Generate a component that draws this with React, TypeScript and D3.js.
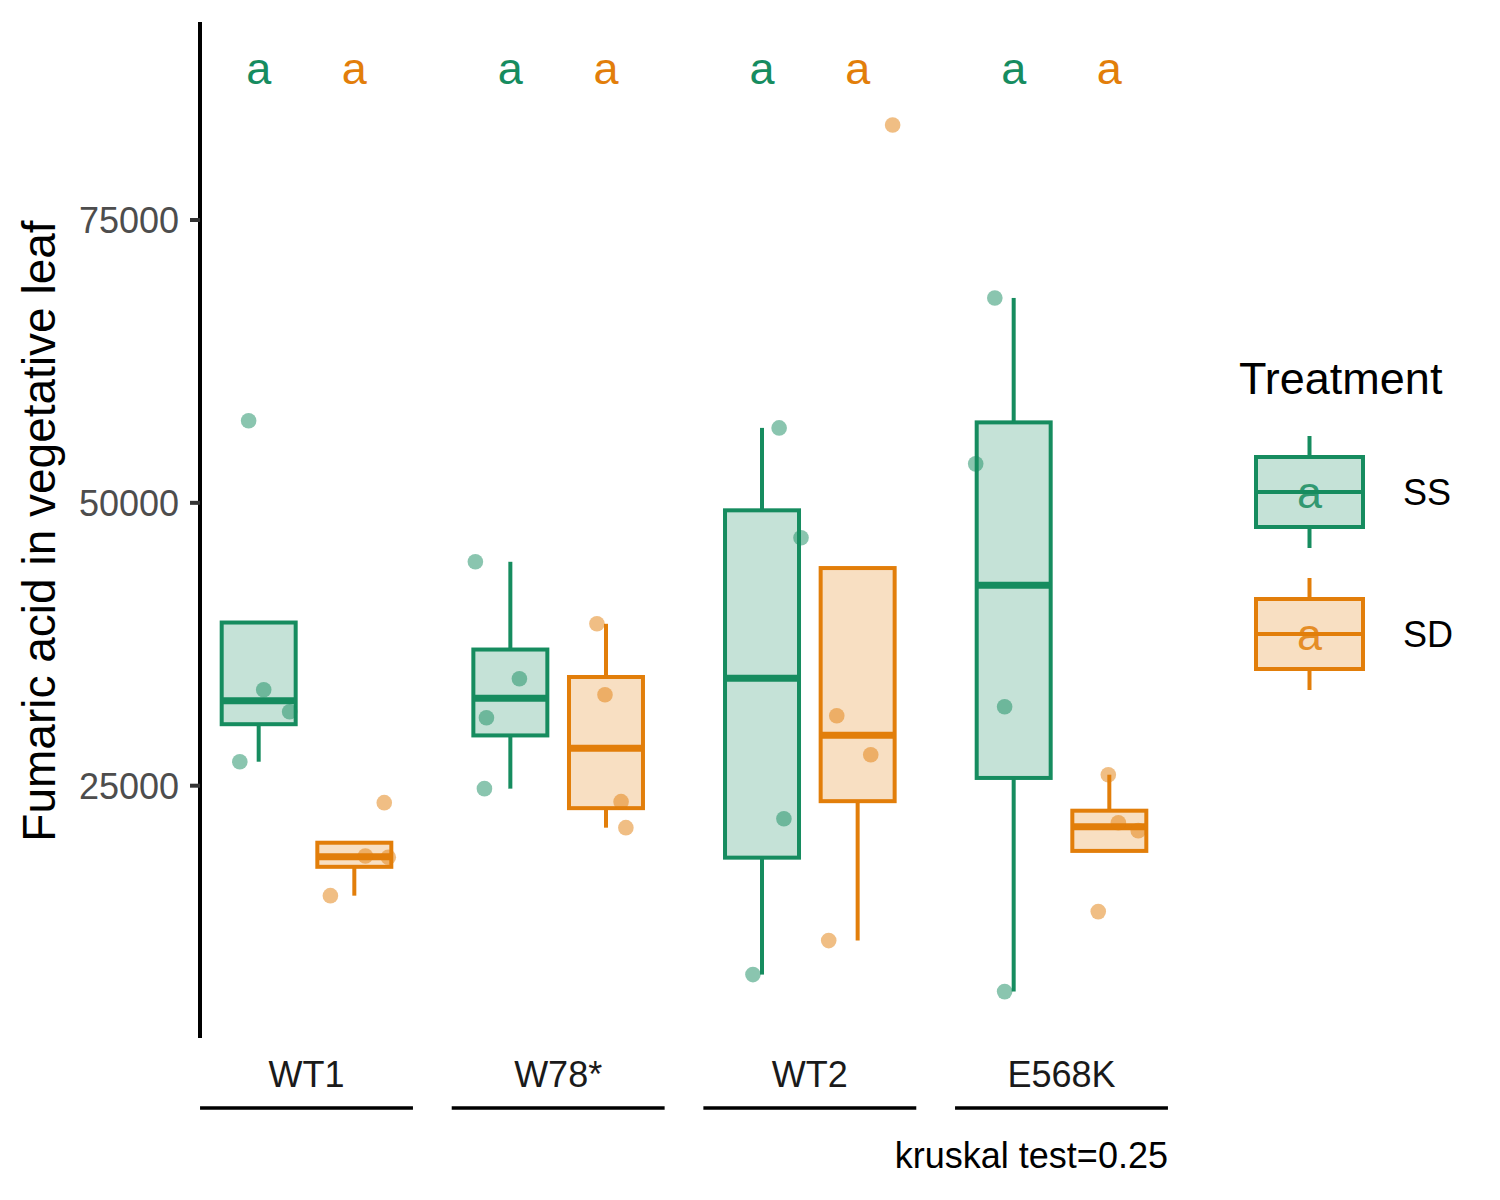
import React from "react";
import * as d3 from "d3";

const categories = ["WT1", "W78*", "WT2", "E568K"];
const treatments = ["SS", "SD"];
const treatmentColors = ["#168C5F", "#E27E0A"];

// values per category, per treatment
const ssValues = [
  [57250, 33480, 31540, 27120],
  [44790, 34450, 31010, 24740],
  [56625, 46910, 22085, 8305],
  [68110, 53445, 31980, 6800],
];
const sdValues = [
  [23500, 18780, 18680, 15280],
  [39310, 33040, 23590, 21290],
  [83390, 31185, 27740, 11310],
  [25970, 21730, 21025, 13870],
];
// horizontal jitter (fraction of category step)
const ssJitter = [
  [-0.04, 0.02, 0.123, -0.075],
  [-0.139, 0.036, -0.095, -0.103],
  [0.068, 0.155, 0.087, -0.036],
  [-0.075, -0.151, -0.036, -0.036],
];
const sdJitter = [
  [0.119, 0.044, 0.135, -0.095],
  [-0.036, -0.004, 0.06, 0.079],
  [0.139, -0.083, 0.052, -0.115],
  [-0.004, 0.036, 0.115, -0.044],
];
const letters = [
  ["a", "a"],
  ["a", "a"],
  ["a", "a"],
  ["a", "a"],
];
const yTicks = [25000, 50000, 75000];
const yDomain = [2700, 92500];
const letterY = 88200;
const yTitle = "Fumaric acid in vegetative leaf";
const note = "kruskal test=0.25";
const legendTitle = "Treatment";

const FONT = "Arial, 'Liberation Sans', Helvetica, sans-serif";

function boxStats(vals: number[]) {
  const s = [...vals].sort((a, b) => a - b);
  const q1 = d3.quantile(s, 0.25)!;
  const med = d3.quantile(s, 0.5)!;
  const q3 = d3.quantile(s, 0.75)!;
  const iqr = q3 - q1;
  const hiFence = q3 + 1.5 * iqr;
  const loFence = q1 - 1.5 * iqr;
  const upper = d3.max(s.filter((v) => v <= hiFence))!;
  const lower = d3.min(s.filter((v) => v >= loFence))!;
  return { q1, med, q3, upper: Math.max(upper, q3), lower: Math.min(lower, q1) };
}

export default function App() {
  const W = 1500;
  const H = 1200;
  const y = d3.scaleLinear().domain(yDomain).range([1038, 22]);
  const x = d3.scalePoint<string>().domain(categories).range([306.5, 1061.5]);
  const step = x.step();
  const dodge = 0.19 * step;
  const boxW = 0.294 * step;
  const lineHalf = 0.423 * step;
  const outlineW = 4;
  const medianW = 7;

  const series = [ssValues, sdValues];
  const jitters = [ssJitter, sdJitter];

  return (
    <svg
      width={W}
      height={H}
      style={{ position: "absolute", left: 0, top: 0, background: "#fff" }}
      fontFamily={FONT}
    >
      <rect x={0} y={0} width={W} height={H} fill="#fff" />
      {/* boxes */}
      {categories.map((c, ci) =>
        treatments.map((t, ti) => {
          const st = boxStats(series[ti][ci]);
          const cx = x(c)! + (ti === 0 ? -dodge : dodge);
          const col = treatmentColors[ti];
          return (
            <g key={`b-${c}-${t}`}>
              <line x1={cx} x2={cx} y1={y(st.q3)} y2={y(st.upper)} stroke={col} strokeWidth={outlineW} />
              <line x1={cx} x2={cx} y1={y(st.q1)} y2={y(st.lower)} stroke={col} strokeWidth={outlineW} />
              <rect
                x={cx - boxW / 2}
                y={y(st.q3)}
                width={boxW}
                height={y(st.q1) - y(st.q3)}
                fill={col}
                fillOpacity={0.25}
                stroke={col}
                strokeWidth={outlineW}
              />
              <line
                x1={cx - boxW / 2}
                x2={cx + boxW / 2}
                y1={y(st.med)}
                y2={y(st.med)}
                stroke={col}
                strokeWidth={medianW}
              />
            </g>
          );
        })
      )}
      {/* points */}
      {categories.map((c, ci) =>
        treatments.map((t, ti) => {
          const cx = x(c)! + (ti === 0 ? -dodge : dodge);
          return series[ti][ci].map((v, k) => (
            <circle
              key={`p-${c}-${t}-${k}`}
              cx={cx + jitters[ti][ci][k] * step}
              cy={y(v)}
              r={7.8}
              fill={treatmentColors[ti]}
              fillOpacity={0.5}
            />
          ));
        })
      )}
      {/* letters */}
      {categories.map((c, ci) =>
        treatments.map((t, ti) => (
          <text
            key={`l-${c}-${t}`}
            x={x(c)! + (ti === 0 ? -dodge : dodge)}
            y={y(letterY) + 13}
            textAnchor="middle"
            fontSize={45}
            fill={treatmentColors[ti]}
          >
            {letters[ci][ti]}
          </text>
        ))
      )}
      {/* y axis */}
      <line x1={200} x2={200} y1={y(yDomain[0])} y2={y(yDomain[1])} stroke="#000" strokeWidth={4} />
      {yTicks.map((t) => (
        <g key={`t-${t}`}>
          <line x1={190} x2={200} y1={y(t)} y2={y(t)} stroke="#333" strokeWidth={4} />
          <text x={179} y={y(t) + 13} textAnchor="end" fontSize={36} fill="#4D4D4D">
            {t}
          </text>
        </g>
      ))}
      <text
        transform={`translate(55, 531) rotate(-90)`}
        textAnchor="middle"
        fontSize={46}
        fill="#000"
      >
        {yTitle}
      </text>
      {/* x labels and underlines */}
      {categories.map((c) => (
        <g key={`x-${c}`}>
          <text x={x(c)!} y={1087} textAnchor="middle" fontSize={36} fill="#1a1a1a">
            {c}
          </text>
          <line x1={x(c)! - lineHalf} x2={x(c)! + lineHalf} y1={1108} y2={1108} stroke="#000" strokeWidth={3.5} />
        </g>
      ))}
      <text x={x(categories[categories.length - 1])! + lineHalf} y={1168} textAnchor="end" fontSize={36} fill="#000">
        {note}
      </text>
      {/* legend */}
      <text x={1239} y={394} fontSize={45} fill="#000">
        {legendTitle}
      </text>
      {treatments.map((t, ti) => {
        const cy = 492 + ti * 142;
        const col = treatmentColors[ti];
        const kx = 1309.5;
        const kw = 107;
        const kh = 70;
        return (
          <g key={`lg-${t}`}>
            <line x1={kx} x2={kx} y1={cy - kh / 2} y2={cy - kh / 2 - 21} stroke={col} strokeWidth={outlineW} />
            <line x1={kx} x2={kx} y1={cy + kh / 2} y2={cy + kh / 2 + 21} stroke={col} strokeWidth={outlineW} />
            <rect
              x={kx - kw / 2}
              y={cy - kh / 2}
              width={kw}
              height={kh}
              fill={col}
              fillOpacity={0.25}
              stroke={col}
              strokeWidth={outlineW}
            />
            <line x1={kx - kw / 2} x2={kx + kw / 2} y1={cy} y2={cy} stroke={col} strokeWidth={outlineW} />
            <text x={kx} y={cy + 16} textAnchor="middle" fontSize={45} fill={col} fillOpacity={0.85}>
              a
            </text>
            <text x={1403} y={cy + 13} fontSize={36} fill="#000">
              {t}
            </text>
          </g>
        );
      })}
    </svg>
  );
}
